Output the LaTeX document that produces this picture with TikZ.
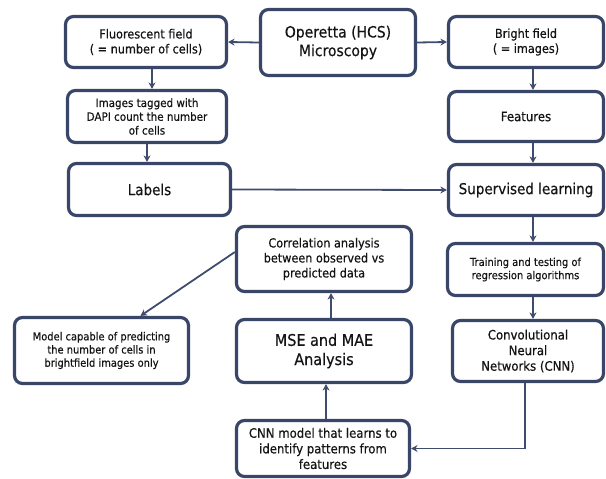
\documentclass[tikz,border=0pt]{standalone}
\usepackage{fontspec}
\setmainfont{DejaVu Sans}[FakeStretch=0.9,FakeBold=0.4]
\usetikzlibrary{arrows.meta}
\definecolor{boxc}{RGB}{58,70,104}
\definecolor{arrc}{RGB}{64,76,110}
\definecolor{txtc}{RGB}{20,20,20}
\newcommand{\fs}[1]{\fontsize{#1}{1.2\dimexpr#1pt\relax}\selectfont}
\begin{document}
\begin{tikzpicture}[x=1pt,y=-1pt,
  box/.style={draw=boxc, line width=3.2pt, rounded corners=8pt, fill=white,
    align=center, inner sep=0pt, text=txtc},
  arr/.style={draw=arrc, line width=1.8pt, -{Stealth[length=6.5pt,width=7pt]}}]
\useasboundingbox (0,0) rectangle (606,479);
\node[box, minimum width=161, minimum height=51, font=\fs{12.5}] (F) at (146,42) {Fluorescent field\\( = number of cells)};
\node[box, minimum width=155, minimum height=66, font=\fs{15.5}] (O) at (338,42.5) {Operetta (HCS)\\Microscopy};
\node[box, minimum width=155, minimum height=51, font=\fs{12.5}] (B) at (526,42) {Bright field\\( = images)};
\node[box, minimum width=155, minimum height=50, font=\fs{13}] (Fe) at (526,116.5) {Features};
\node[box, minimum width=155, minimum height=51, font=\fs{15}] (S) at (526,190) {Supervised learning};
\node[box, minimum width=159, minimum height=52, font=\fs{11.5}] (I) at (147,116.5) {Images tagged with\\DAPI count the number\\of cells};
\node[box, minimum width=162, minimum height=52, font=\fs{15}] (L) at (149.5,189.5) {Labels};
\node[box, minimum width=175, minimum height=65, font=\fs{12.5}] (C) at (324,259) {Correlation analysis\\between observed vs\\predicted data};
\node[box, minimum width=156, minimum height=52, font=\fs{11}] (T) at (525.5,269.5) {Training and testing of\\regression algorithms};
\node[box, minimum width=174, minimum height=66, font=\fs{11}] (M) at (101.5,350.5) {Model capable of predicting\\the number of cells in\\brightfield images only};
\node[box, minimum width=175, minimum height=63, font=\fs{16}] (E) at (324,351) {MSE and MAE\\Analysis};
\node[box, minimum width=151, minimum height=61, font=\fs{13}] (N) at (528,351) {Convolutional\\Neural\\Networks (CNN)};
\node[box, minimum width=173, minimum height=56, font=\fs{13}] (K) at (323,448.5) {CNN model that learns to\\identify patterns from\\features};
\draw[arr] (O.west) -- (F.east);
\draw[arr] (O.east) -- (B.west);
\draw[arr] ([xshift=6pt]F.south) -- ([xshift=6pt]F.south |- I.north);
\draw[arr] (I.south) -- (I.south |- L.north);
\draw[arr] ([xshift=7pt]B.south) -- ([xshift=7pt]B.south |- Fe.north);
\draw[arr] ([xshift=7pt]Fe.south) -- ([xshift=7pt]Fe.south |- S.north);
\draw[arr] (L.east) -- (S.west);
\draw[arr] ([xshift=7pt]S.south) -- ([xshift=7pt]S.south |- T.north);
\draw[arr] ([xshift=7.5pt]T.south) -- ([xshift=7.5pt]T.south |- N.north);
\draw[arr] ([xshift=-3pt]N.south) |- (K.east);
\draw[arr] ([xshift=3pt]K.north) -- ([xshift=3pt]K.north |- E.south);
\draw[arr] ([xshift=7pt]E.north) -- ([xshift=7pt]E.north |- C.south);
\draw[arr] ([yshift=7pt]C.west) -- ([xshift=39pt]M.north);
\end{tikzpicture}
\end{document}
